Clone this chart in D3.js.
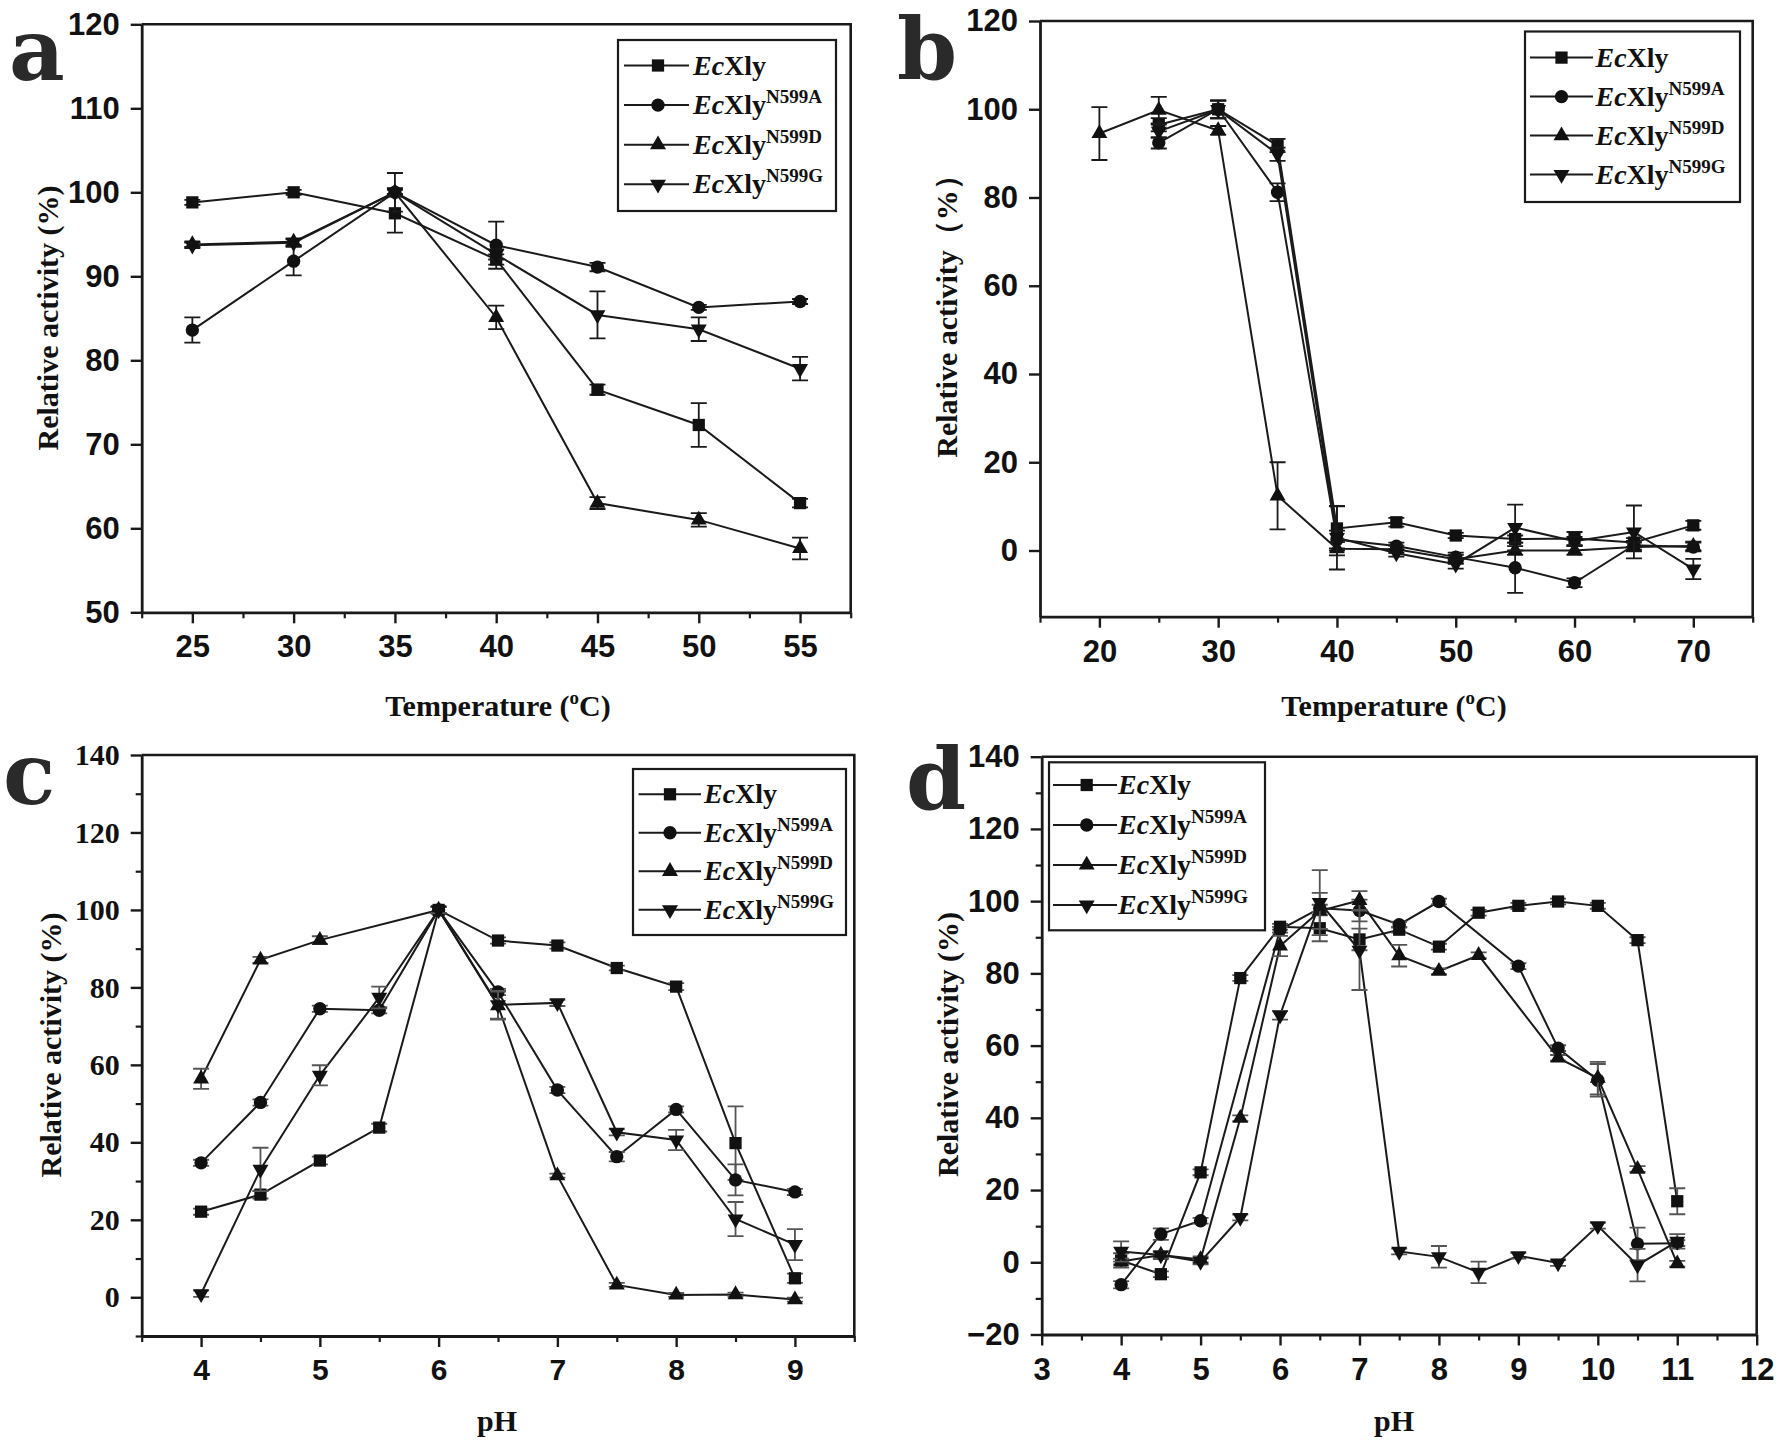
<!DOCTYPE html>
<html><head><meta charset="utf-8">
<script src="https://cdn.jsdelivr.net/npm/d3@7"></script>
<style>
html,body{margin:0;padding:0;background:#fff;}
svg{display:block;}
</style>
</head><body>
<svg id="chart" width="1778" height="1444"></svg>
<script>
// ---------------- DATA ----------------
const seriesNames = ["EcXly", "N599A", "N599D", "N599G"];
const seriesSup = ["", "N599A", "N599D", "N599G"];

// Panel a: thermal optimum
const tempA = [25, 30, 35, 40, 45, 50, 55];
const aEcXly = [98.8, 100, 97.5, 92.0, 76.5, 72.3, 63.0];
const aEcXlyErr = [0.3, 0.3, 2.3, 0.6, 0.6, 2.6, 0.5];
const aN599A = [83.6, 91.8, 100, 93.7, 91.1, 86.3, 87.0];
const aN599AErr = [1.5, 1.7, 2.3, 2.8, 0.5, 0.3, 0.3];
const aN599D = [93.8, 94.1, 100, 85.1, 63.0, 61.0, 57.6];
const aN599DErr = [0.3, 0.4, 0.3, 1.4, 0.7, 0.8, 1.3];
const aN599G = [93.7, 94.0, 100, 92.6, 85.4, 83.7, 79.0];
const aN599GErr = [0.3, 0.4, 0.5, 0.6, 2.8, 1.4, 1.4];

// Panel b: thermal stability
const tempB = [20, 25, 30, 35, 40, 45, 50, 55, 60, 65, 70];
const bEcXly = [null, 96.5, 100, 91.8, 5.0, 6.4, 3.4, 2.6, 2.7, 1.8, 5.7];
const bEcXlyErr = [null, 1.5, 2.0, 1.5, 5.0, 1.0, 0.6, 0.8, 1.5, 1.0, 1.0];
const bN599A = [null, 92.4, 100, 81.2, 2.5, 1.0, -1.5, -3.9, -7.3, 1.2, 0.8];
const bN599AErr = [null, 1.3, 2.0, 2.0, 2.0, 0.8, 1.0, 5.7, 1.0, 1.0, 1.0];
const bN599D = [94.5, 99.8, 95.2, 12.4, 0.4, 0.3, -2.0, 0.0, 0.0, 0.8, 1.0];
const bN599DErr = [6.0, 3.0, 1.0, 7.6, 1.5, 0.8, 1.0, 1.0, 1.0, 1.0, 1.0];
const bN599G = [null, 95.0, 99.9, 89.8, 2.9, -0.6, -3.1, 5.2, 2.1, 4.2, -4.2];
const bN599GErr = [null, 1.5, 2.0, 1.5, 7.2, 0.8, 1.0, 5.2, 1.0, 6.0, 2.3];

// Panel c: pH optimum
const phC = [4, 4.5, 5, 5.5, 6, 6.5, 7, 7.5, 8, 8.5, 9];
const cEcXly = [22.1, 26.5, 35.3, 43.8, 100, 92.1, 90.8, 85.0, 80.2, 39.8, 4.9];
const cEcXlyErr = [0.8, 1.0, 1.0, 1.0, 0.8, 0.8, 0.8, 0.6, 0.9, 9.5, 1.2];
const cN599A = [34.7, 50.3, 74.5, 74.1, 100, 78.8, 53.5, 36.3, 48.5, 30.3, 27.2];
const cN599AErr = [0.8, 0.8, 0.8, 0.8, 0.8, 0.8, 0.8, 1.2, 0.8, 4.0, 0.8];
const cN599D = [56.4, 87.1, 92.2, null, 100, 75.3, 31.4, 3.2, 0.6, 0.7, -0.6];
const cN599DErr = [2.6, 0.8, 1.0, null, 0.8, 3.6, 0.5, 0.5, 0.5, 0.5, 0.5];
const cN599G = [0.9, 33.0, 57.3, 77.4, 100, 75.5, 76.0, 42.6, 40.6, 20.2, 13.6];
const cN599GErr = [0.8, 5.6, 2.6, 2.8, 0.8, 3.6, 0.8, 0.8, 2.6, 4.4, 4.0];

// Panel d: pH stability
const phD = [4, 4.5, 5, 5.5, 6, 6.5, 7, 7.5, 8, 8.5, 9, 9.5, 10, 10.5, 11];
const dEcXly = [0.5, -3.3, 24.9, 78.7, 92.9, 92.5, 89.4, 92.1, 87.4, 96.8, 98.7, 99.9, 98.7, 89.2, 16.9];
const dEcXlyErr = [2.0, 0.8, 0.8, 0.8, 0.8, 3.6, 3.0, 0.8, 0.8, 0.8, 0.8, 0.8, 0.8, 0.8, 3.6];
const dN599A = [-6.2, 7.8, 11.5, null, 92.1, 98.0, 97.4, 93.5, 99.9, null, 82.0, 59.3, 50.4, 5.1, 5.3];
const dN599AErr = [1.0, 1.6, 0.8, null, 0.8, 1.0, 3.0, 0.8, 0.8, null, 0.8, 0.8, 4.5, 4.5, 0.8];
const dN599D = [0.2, 2.0, 0.8, 39.9, 87.6, 97.3, 100.2, 84.9, 80.6, 85.0, null, 56.6, 51.0, 25.8, -0.4];
const dN599DErr = [0.8, 0.8, 0.8, 0.8, 2.8, 5.0, 2.6, 3.0, 0.8, 0.8, null, 0.8, 4.5, 0.8, 0.8];
const dN599G = [3.0, 2.0, 0.2, 12.4, 68.4, 99.6, 86.4, 3.0, 1.5, -2.8, 1.8, -0.2, 10.1, -0.8, 5.8];
const dN599GErr = [2.8, 1.0, 0.8, 0.8, 1.2, 9.0, 11.0, 0.8, 3.0, 3.0, 0.8, 0.8, 0.8, 4.5, 2.0];

// Tick values
const aXTicks = [25, 30, 35, 40, 45, 50, 55];
const aYTicks = [50, 60, 70, 80, 90, 100, 110, 120];
const bXTicks = [20, 30, 40, 50, 60, 70];
const bYTicks = [0, 20, 40, 60, 80, 100, 120];
const cXTicks = [4, 5, 6, 7, 8, 9];
const cYTicks = [0, 20, 40, 60, 80, 100, 120, 140];
const dXTicks = [3, 4, 5, 6, 7, 8, 9, 10, 11, 12];
const dYTicks = [-20, 0, 20, 40, 60, 80, 100, 120, 140];

// ---------------- DRAW ----------------
const SANS = "'Liberation Sans', Arial, Helvetica, sans-serif";
const SERIF = "'Liberation Serif', 'Times New Roman', Times, serif";
const svg = d3.select("#chart");
const INK = "#1a1a1a";

const symbols = [
  d3.symbol().type(d3.symbolSquare).size(150),
  d3.symbol().type(d3.symbolCircle).size(140),
  d3.symbol().type(d3.symbolTriangle).size(110),
  d3.symbol().type(d3.symbolTriangle).size(110)
];
const symRot = [0, 0, 0, 180];

function panel(cfg) {
  const g = svg.append("g");
  const x = d3.scaleLinear().domain(cfg.xDomain).range([cfg.left, cfg.right]);
  const y = d3.scaleLinear().domain(cfg.yDomain).range([cfg.bottom, cfg.top]);

  // frame top/right
  g.append("path")
    .attr("d", `M${cfg.left},${cfg.top}H${cfg.right}V${cfg.bottom}`)
    .attr("fill", "none").attr("stroke", INK).attr("stroke-width", 2.6);

  // minor ticks
  const minorX = d3.axisBottom(x).tickValues(cfg.xMinor).tickSize(6).tickFormat("").tickSizeOuter(0);
  g.append("g").attr("transform", `translate(0,${cfg.bottom})`).call(minorX)
    .call(s => { s.select(".domain").remove(); s.selectAll("line").attr("stroke", INK).attr("stroke-width", 2.2); });
  if (cfg.yMinor.length) {
    const minorY = d3.axisLeft(y).tickValues(cfg.yMinor).tickSize(6).tickFormat("").tickSizeOuter(0);
    g.append("g").attr("transform", `translate(${cfg.left},0)`).call(minorY)
      .call(s => { s.select(".domain").remove(); s.selectAll("line").attr("stroke", INK).attr("stroke-width", 2.2); });
  }

  // major axes
  const xAxis = d3.axisBottom(x).tickValues(cfg.xTicks).tickSize(11).tickPadding(12).tickSizeOuter(0).tickFormat(d3.format("d"));
  const gx = g.append("g").attr("transform", `translate(0,${cfg.bottom})`).call(xAxis);
  gx.select(".domain").attr("stroke", INK).attr("stroke-width", 2.8);
  gx.selectAll("line").attr("stroke", INK).attr("stroke-width", 2.4);
  gx.selectAll("text").attr("fill", "#111").attr("font-family", cfg.xFont).attr("font-weight", "bold").attr("font-size", cfg.tickSize);

  const yAxis = d3.axisLeft(y).tickValues(cfg.yTicks).tickSize(11).tickPadding(11).tickSizeOuter(0).tickFormat(d3.format("d"));
  const gy = g.append("g").attr("transform", `translate(${cfg.left},0)`).call(yAxis);
  gy.select(".domain").attr("stroke", INK).attr("stroke-width", 2.8);
  gy.selectAll("line").attr("stroke", INK).attr("stroke-width", 2.4);
  gy.selectAll("text").attr("fill", "#111").attr("font-family", cfg.yFont).attr("font-weight", "bold").attr("font-size", cfg.tickSize);

  // series
  cfg.series.forEach((s, si) => {
    const pts = cfg.xs.map((xv, i) => ({x: xv, y: s.values[i], e: s.errs[i]})).filter(p => p.y !== null);
    const line = d3.line().x(p => x(p.x)).y(p => y(p.y));
    g.append("path").datum(pts).attr("d", line)
      .attr("fill", "none").attr("stroke", INK).attr("stroke-width", 2);
    // error bars
    const eg = g.append("g").attr("stroke", cfg.errColor).attr("stroke-width", 1.8).attr("fill", "none");
    pts.forEach(p => {
      if (!p.e) return;
      const cx = x(p.x), y1 = y(p.y + p.e), y2 = y(p.y - p.e);
      eg.append("path").attr("d", `M${cx},${y1}V${y2}M${cx - 8},${y1}H${cx + 8}M${cx - 8},${y2}H${cx + 8}`);
    });
    g.append("g").selectAll("path").data(pts).join("path")
      .attr("d", symbols[si])
      .attr("transform", p => `translate(${x(p.x)},${y(p.y)}) rotate(${symRot[si]})`)
      .attr("fill", "#111");
  });

  // legend
  const L = cfg.legend;
  const lg = g.append("g");
  lg.append("rect").attr("x", L.x).attr("y", L.y).attr("width", L.w).attr("height", L.h)
    .attr("fill", "#fff").attr("stroke", INK).attr("stroke-width", 2.2);
  seriesNames.forEach((n, i) => {
    const ry = L.row0 + i * L.step;
    lg.append("line").attr("x1", L.x + L.l1).attr("x2", L.x + L.l2).attr("y1", ry).attr("y2", ry)
      .attr("stroke", INK).attr("stroke-width", 2);
    lg.append("path").attr("d", symbols[i])
      .attr("transform", `translate(${L.x + L.m},${ry}) rotate(${symRot[i]})`).attr("fill", "#111");
    const t = lg.append("text").attr("x", L.x + L.tx).attr("y", ry + 9)
      .attr("font-family", SERIF).attr("font-weight", "bold").attr("font-size", 28).attr("fill", "#111");
    t.append("tspan").attr("font-style", "italic").text("Ec");
    t.append("tspan").text("Xly");
    if (seriesSup[i]) t.append("tspan").attr("font-size", 19).attr("dy", -11).text(seriesSup[i]);
  });

  // axis titles
  const xt = g.append("text").attr("x", cfg.xTitle[0]).attr("y", cfg.xTitle[1]).attr("text-anchor", "middle")
    .attr("font-family", SERIF).attr("font-weight", "bold").attr("font-size", 30).attr("fill", "#111");
  if (cfg.xTitleText === "temp") {
    xt.append("tspan").text("Temperature (");
    xt.append("tspan").attr("font-size", 19).attr("dy", -12).text("o");
    xt.append("tspan").attr("dy", 12).text("C)");
  } else {
    xt.text(cfg.xTitleText);
  }
  g.append("text").attr("transform", `translate(${cfg.yTitle[0]},${cfg.yTitle[1]}) rotate(-90)`)
    .attr("text-anchor", "middle").attr("font-family", SERIF).attr("font-weight", "bold")
    .attr("font-size", 30).attr("fill", "#111").text(cfg.yTitleText);

  // panel letter
  g.append("text").attr("x", cfg.letter[0]).attr("y", cfg.letter[1])
    .attr("font-family", "'DejaVu Serif', serif").attr("font-weight", "bold")
    .attr("font-size", 86).attr("fill", "#2a2a2a").text(cfg.letterText);
}

function range(a, b, s) { const r = []; for (let v = a; v <= b + 1e-9; v += s) r.push(+v.toFixed(3)); return r; }

panel({
  left: 141.7, right: 850.7, top: 24.3, bottom: 612.3,
  xDomain: [22.5, 57.5], yDomain: [50, 120],
  xTicks: aXTicks, yTicks: aYTicks, xMinor: range(22.5, 57.5, 5), yMinor: [],
  xFont: SANS, yFont: SANS, tickSize: 31, errColor: INK,
  xs: tempA,
  series: [
    {values: aEcXly, errs: aEcXlyErr}, {values: aN599A, errs: aN599AErr},
    {values: aN599D, errs: aN599DErr}, {values: aN599G, errs: aN599GErr}],
  legend: {x: 618, y: 40, w: 218, h: 171, row0: 65.5, step: 39.6, l1: 6, l2: 71, m: 40, tx: 75},
  xTitle: [498, 716], xTitleText: "temp",
  yTitle: [58, 318], yTitleText: "Relative activity (%)",
  letter: [9, 80], letterText: "a"
});

panel({
  left: 1040, right: 1752.7, top: 21, bottom: 616.7,
  xDomain: [15, 75], yDomain: [-15, 120],
  xTicks: bXTicks, yTicks: bYTicks, xMinor: range(15, 75, 10), yMinor: [],
  xFont: SANS, yFont: SANS, tickSize: 31, errColor: INK,
  xs: tempB,
  series: [
    {values: bEcXly, errs: bEcXlyErr}, {values: bN599A, errs: bN599AErr},
    {values: bN599D, errs: bN599DErr}, {values: bN599G, errs: bN599GErr}],
  legend: {x: 1525, y: 31.5, w: 215, h: 170.5, row0: 57.6, step: 39, l1: 5, l2: 68, m: 36.5, tx: 70.5},
  xTitle: [1394, 716], xTitleText: "temp",
  yTitle: [957, 309], yTitleText: "Relative activity（%）",
  letter: [897, 80], letterText: "b"
});

panel({
  left: 141.7, right: 854.3, top: 755, bottom: 1336,
  xDomain: [3.5, 9.5], yDomain: [-10, 140],
  xTicks: cXTicks, yTicks: cYTicks, xMinor: range(3.5, 9.5, 1), yMinor: range(-10, 130, 20),
  xFont: SANS, yFont: SERIF, tickSize: 30, errColor: "#555",
  xs: phC,
  series: [
    {values: cEcXly, errs: cEcXlyErr}, {values: cN599A, errs: cN599AErr},
    {values: cN599D, errs: cN599DErr}, {values: cN599G, errs: cN599GErr}],
  legend: {x: 633, y: 769, w: 213, h: 166, row0: 794.3, step: 38.5, l1: 5.6, l2: 68, m: 37, tx: 71},
  xTitle: [497, 1431], xTitleText: "pH",
  yTitle: [61, 1045], yTitleText: "Relative activity (%)",
  letter: [3, 804], letterText: "c"
});

panel({
  left: 1041.7, right: 1756.7, top: 756.7, bottom: 1334.5,
  xDomain: [3, 12], yDomain: [-20, 140],
  xTicks: dXTicks, yTicks: dYTicks, xMinor: range(3.5, 11.5, 1), yMinor: range(-10, 130, 20),
  xFont: SANS, yFont: SANS, tickSize: 31, errColor: "#555",
  xs: phD,
  series: [
    {values: dEcXly, errs: dEcXlyErr}, {values: dN599A, errs: dN599AErr},
    {values: dN599D, errs: dN599DErr}, {values: dN599G, errs: dN599GErr}],
  legend: {x: 1049, y: 762.3, w: 216, h: 168, row0: 785, step: 40, l1: 4, l2: 68, m: 37.7, tx: 69},
  xTitle: [1394, 1431], xTitleText: "pH",
  yTitle: [958, 1044.5], yTitleText: "Relative activity (%)",
  letter: [906, 810], letterText: "d"
});
</script>
</body></html>
